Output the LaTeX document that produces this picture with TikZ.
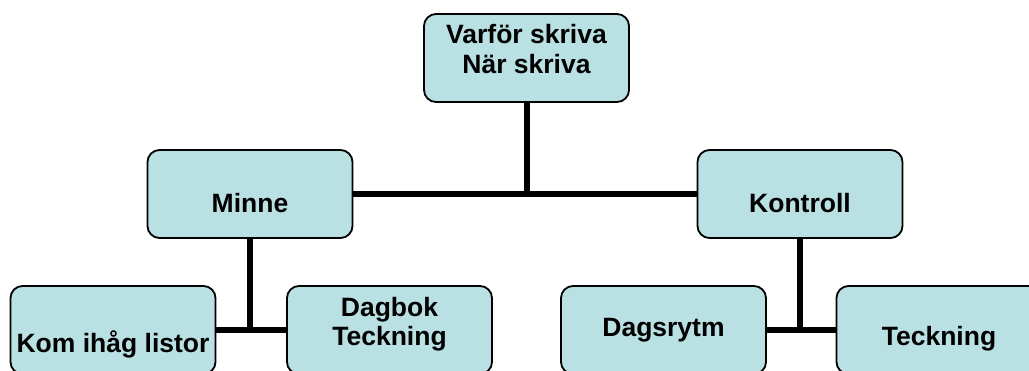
\documentclass[tikz,border=0pt]{standalone}
\usepackage{fontspec}
\setmainfont{Liberation Sans}
\definecolor{boxfill}{RGB}{185,224,227}
\begin{document}
\begin{tikzpicture}[x=1pt,y=-1pt,
  box/.style={draw=black,line width=1.8pt,fill=boxfill,rounded corners=12pt,
    minimum width=205pt,minimum height=88pt,inner sep=0pt},
  txt/.style={font=\fontsize{26.5}{29.5}\selectfont\bfseries,inner sep=0pt,align=center,text=black},
  conn/.style={line width=6pt,black}]
\useasboundingbox (0,0) rectangle (1029,370);
\clip (0,0) rectangle (1029,370);
\fill[white] (0,0) rectangle (1029,370);
% boxes
\node[box] (top) at (526.5,58) {};
\node[box] (minne) at (250,194) {};
\node[box] (kontroll) at (800,194) {};
\node[box] (kom) at (113,330) {};
\node[box] (dagbok) at (389.5,330) {};
\node[box] (dagsrytm) at (663.5,330) {};
\node[box] (teckning) at (939,330) {};
% connectors
\draw[conn] (minne.east) -- (kontroll.west);
\draw[conn] (top.south) -- (top.south |- minne.east);
\draw[conn] (kom.east) -- (dagbok.west);
\draw[conn] (minne.south) -- ([yshift=2pt]minne.south |- kom.east);
\draw[conn] (dagsrytm.east) -- (teckning.west);
\draw[conn] (kontroll.south) -- ([yshift=2pt]kontroll.south |- dagsrytm.east);
% texts
\node[txt,anchor=north] (ttop) at (526.5,24.5) {Varför skriva\\När skriva};
\node[txt,anchor=base] (tminne) at (250,212) {Minne};
\node[txt,anchor=base] (tkontroll) at (800,212) {Kontroll};
\node[txt,anchor=base] (tkom) at (113,352) {Kom ihåg listor};
\node[txt,anchor=north] (tdagbok) at (389.5,297) {Dagbok\\Teckning};
\node[txt,anchor=base] (tdagsrytm) at (663.5,336) {Dagsrytm};
\node[txt,anchor=base] (tteckning) at (939,345) {Teckning};
\end{tikzpicture}
\end{document}
